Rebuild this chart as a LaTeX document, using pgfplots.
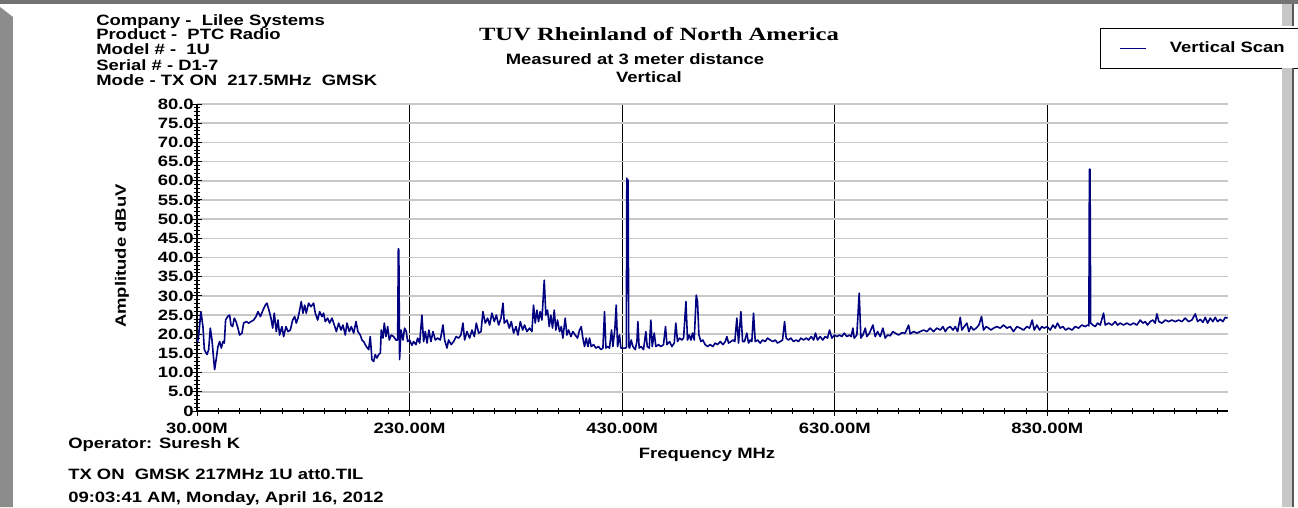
\documentclass[border=0pt]{standalone}
\usepackage{fontspec}
\usepackage{pgfplots}
\pgfplotsset{compat=1.18}
\usetikzlibrary{calc}
\newfontfamily\chartfont[FakeStretch=1.23]{Liberation Sans}
\newfontfamily\titlefont[FakeStretch=1.32]{Liberation Serif}
\newcommand\cf{\chartfont\bfseries\fontsize{11.25pt}{13pt}\selectfont}
\definecolor{scan}{RGB}{0,0,128}
\definecolor{gridgray}{RGB}{200,200,200}

\pgfplotstableread{
f v
30.0 18.0
30.6 18.1
31.5 19.5
33.7 25.9
35.6 22.0
36.9 16.0
39.4 14.7
41.0 16.0
42.5 21.6
44.1 18.5
45.7 13.4
46.6 10.8
48.2 13.8
49.7 16.8
51.3 18.1
52.9 16.4
54.4 18.1
55.7 17.7
56.9 23.7
58.8 24.6
60.7 25.0
62.0 22.4
63.5 22.0
65.1 24.2
66.7 23.3
68.5 21.6
70.1 19.8
72.3 20.3
73.9 22.9
76.4 23.3
78.6 22.9
80.8 23.3
83.3 23.7
85.5 24.6
87.4 25.9
89.6 24.6
92.1 26.3
94.3 27.6
95.8 28.1
97.7 26.3
99.6 24.2
101.2 21.6
102.7 25.5
104.6 20.7
106.2 23.7
107.7 19.8
109.9 22.0
111.5 19.4
113.7 22.0
115.6 20.7
117.8 21.1
120.0 23.7
121.9 24.6
123.4 22.9
125.0 24.2
126.6 26.3
128.1 28.5
129.7 25.5
131.3 27.6
132.8 25.5
135.0 28.1
137.2 27.2
139.7 28.1
141.3 25.5
143.5 23.7
145.4 25.9
147.6 24.6
149.1 25.5
150.7 23.3
152.9 24.2
154.8 22.9
157.0 24.2
159.2 22.4
161.1 20.7
163.3 22.9
165.5 21.1
167.3 22.4
169.5 19.8
171.1 22.9
173.3 20.7
175.2 22.0
177.4 20.3
179.6 23.3
181.4 20.7
183.6 19.8
185.2 18.5
186.8 18.1
189.3 16.8
191.5 16.0
193.0 19.4
194.6 13.4
196.2 12.9
197.7 14.7
199.3 13.8
200.9 14.7
202.5 15.1
203.4 21.1
205.0 19.0
206.2 22.9
207.8 19.4
209.4 22.0
210.9 18.5
212.8 19.8
215.0 19.4
217.2 18.5
218.8 18.5
219.4 42.3
219.9 42.0
220.6 13.4
221.9 21.1
223.8 18.5
225.3 21.6
226.9 20.7
228.2 18.1
230.0 18.5
232.2 17.1
233.8 18.1
236.0 17.3
237.6 19.0
239.5 17.7
241.6 25.0
243.2 18.1
244.8 20.7
246.4 17.7
248.2 21.1
250.1 18.1
252.0 20.7
254.2 18.5
256.4 19.0
258.9 18.5
261.4 22.4
263.0 18.5
265.2 16.4
266.7 18.5
269.2 17.3
271.4 18.1
273.9 19.4
276.1 19.0
278.3 19.8
280.2 22.9
281.8 18.5
284.0 20.7
286.5 19.0
288.7 21.1
290.9 19.4
292.8 22.9
295.0 20.3
297.2 20.7
299.0 25.9
301.2 22.9
303.4 24.2
305.3 22.4
307.5 25.5
309.7 23.3
311.6 25.0
313.8 22.4
316.0 24.2
317.9 28.1
319.1 22.9
321.6 23.7
323.8 21.6
325.7 23.3
327.9 20.3
330.1 22.0
332.0 19.8
334.2 23.3
336.4 21.1
338.2 22.4
340.4 20.7
342.9 21.6
345.1 20.7
346.6 27.6
348.2 22.9
349.8 26.3
351.3 23.3
352.9 25.9
354.5 23.7
356.7 34.1
358.2 25.0
359.8 26.3
361.4 22.0
362.9 25.0
364.5 21.6
366.1 26.3
367.6 21.1
369.2 23.7
371.1 20.7
372.7 22.0
374.2 19.0
376.4 24.2
378.0 19.8
379.6 21.1
381.8 19.4
383.6 20.7
385.8 19.8
388.0 19.0
389.9 21.1
391.5 22.0
393.0 19.0
394.6 16.8
396.2 19.0
397.8 16.8
399.3 19.0
400.9 16.8
403.1 17.3
405.3 16.4
407.8 16.8
410.0 16.0
411.9 16.4
413.4 25.9
414.7 16.4
416.3 16.8
418.1 16.4
420.0 21.1
421.3 16.8
423.2 21.6
424.4 27.6
425.7 16.8
427.5 19.8
428.8 16.4
430.7 16.4
432.9 16.4
433.9 16.5
434.4 60.7
435.0 45.0
435.6 60.2
436.2 16.8
437.0 16.4
438.5 18.5
440.1 16.8
442.3 16.0
443.9 18.1
444.8 23.3
446.0 16.4
447.9 16.8
450.1 16.0
452.3 20.7
453.6 16.8
455.5 16.4
457.0 23.7
458.3 16.8
460.2 20.3
461.7 16.8
464.2 17.3
466.4 16.8
468.9 17.3
470.8 22.0
472.1 17.3
474.6 18.1
476.8 16.8
479.0 17.7
480.5 22.9
482.1 18.1
484.0 19.0
486.2 18.5
487.8 19.0
490.0 28.5
491.5 18.5
493.1 19.8
494.7 18.5
496.2 20.3
497.8 18.5
499.7 30.2
500.9 28.5
502.2 19.8
504.1 18.1
505.9 18.5
508.1 17.3
510.3 16.8
512.8 17.3
515.4 16.8
517.5 17.7
519.7 17.3
522.3 18.1
524.8 17.3
527.0 18.1
528.5 19.4
530.1 17.7
532.3 18.1
534.2 18.5
536.0 18.1
537.9 24.2
539.5 17.7
541.7 25.9
543.3 18.1
545.1 18.1
547.3 20.3
548.9 17.7
550.5 18.5
552.0 18.1
553.6 25.5
555.2 18.1
557.4 18.5
559.9 17.7
562.1 18.5
564.6 18.1
566.8 19.0
569.3 18.5
571.8 18.1
574.0 18.5
576.2 17.7
578.7 18.1
580.9 18.5
582.8 23.3
584.3 19.0
586.5 18.5
588.7 19.0
591.2 18.1
593.7 18.5
595.9 18.1
598.1 19.0
600.6 18.5
603.2 19.0
605.4 18.5
607.9 19.4
610.1 18.5
611.9 20.3
613.8 18.5
616.3 19.4
618.8 18.5
621.0 19.4
623.2 19.0
625.1 21.1
627.3 19.0
629.8 19.8
632.0 19.4
634.5 19.8
636.7 19.4
638.9 20.3
641.4 19.4
643.9 19.8
645.5 19.4
647.1 21.6
648.3 19.0
650.8 19.8
653.0 30.7
654.6 19.0
656.5 19.8
658.7 21.6
660.2 19.4
662.7 20.3
665.9 22.4
668.1 19.4
670.3 20.7
672.8 19.4
675.3 21.6
677.5 19.0
679.7 19.8
682.2 19.6
684.7 20.7
686.9 20.3
690.1 19.8
693.2 20.4
696.3 20.3
699.5 22.4
701.0 20.1
704.2 20.7
707.3 20.3
710.4 20.7
713.6 21.1
716.7 20.7
719.8 21.6
723.0 20.7
726.1 21.6
729.3 21.1
731.8 22.0
734.0 20.7
736.2 21.6
738.7 22.0
741.2 21.1
743.4 22.0
745.6 20.7
748.1 24.4
749.6 21.1
751.8 22.0
754.3 22.9
756.2 20.7
758.1 22.0
760.6 21.1
763.1 21.6
765.6 22.4
768.1 24.6
770.0 21.1
772.5 22.0
774.7 21.6
776.9 21.1
779.4 21.6
782.6 22.0
785.7 21.6
788.8 22.4
792.0 21.6
795.1 22.0
798.2 20.7
801.4 22.0
804.5 21.6
807.7 21.1
810.8 22.0
813.3 21.6
815.8 23.7
817.7 21.1
820.2 22.4
822.7 21.1
824.9 22.0
827.1 21.6
829.9 22.0
832.7 21.1
835.3 22.4
837.4 21.6
839.6 22.9
842.1 21.6
844.7 22.0
847.2 21.1
850.0 21.6
853.1 21.1
856.3 22.0
859.4 21.6
862.5 22.4
865.7 22.0
867.9 22.4
869.1 22.2
869.6 63.0
870.2 63.0
870.8 22.9
872.9 22.4
875.1 22.0
877.3 22.9
879.8 22.4
882.9 25.5
884.5 22.4
887.6 22.9
890.8 22.4
893.9 23.3
896.1 22.4
898.6 22.9
901.7 22.4
904.9 22.9
908.0 22.4
911.1 22.9
914.3 22.4
917.4 23.7
919.9 22.9
922.1 23.3
924.3 22.4
926.8 23.3
929.3 23.7
931.5 22.9
933.1 25.3
935.0 23.3
937.8 22.9
941.0 23.7
944.1 23.3
947.2 23.7
950.3 23.3
953.5 23.7
956.6 23.3
959.7 24.2
962.9 23.3
966.0 23.7
969.2 25.3
971.4 23.3
973.9 23.9
976.4 23.1
978.6 24.4
980.8 22.9
983.3 24.2
985.8 23.3
988.0 24.4
990.2 23.3
992.7 23.9
995.2 23.3
997.4 24.4
999.6 24.2
}\scandata

\begin{document}
\begin{tikzpicture}
\begin{axis}[
  name=ax,
  scale only axis, width=773.25pt, height=230.25pt,
  xmin=30, xmax=1000, ymin=0, ymax=80,
  axis x line*=bottom, axis y line*=left,
  axis line style={black, line width=1pt},
  xtick={30,230,430,630,830},
  xticklabels={30.00M,230.00M,430.00M,630.00M,830.00M},
  minor xtick={50,70,...,990},
  ytick={0,5,...,80},
  yticklabels={0,5.0,10.0,15.0,20.0,25.0,30.0,35.0,40.0,45.0,50.0,55.0,60.0,65.0,70.0,75.0,80.0},
  minor ytick={1,2,...,79},
  tick align=center,
  major tick length=7pt,
  minor tick length=4.5pt,
  every tick/.style={black, line width=0.7pt},
  minor tick style={black, line width=0.6pt},
  xmajorgrids, ymajorgrids,
  x grid style={black, line width=0.9pt},
  y grid style={gridgray, line width=1.2pt},
  tick label style={font=\cf},
  xticklabel style={inner sep=0pt, anchor=north, yshift=-5pt},
  yticklabel style={inner sep=0pt, anchor=east, xshift=1.25pt},
  xlabel={Frequency MHz},
  xlabel style={font=\cf, inner sep=0pt, anchor=base, at={(axis description cs:0.4947,-0.1547)}},
  ylabel={Amplitude dBuV},
  ylabel style={font=\cf, inner sep=0pt, anchor=center, at={(axis description cs:-0.0727,0.5049)}},
  legend style={at={(axis description cs:0.8759,1.2476)}, anchor=north west,
    draw=black, line width=0.6pt, inner xsep=11pt, inner ysep=10.2pt,
    font=\cf, nodes={inner sep=0pt}},
  legend cell align=left,
  legend image code/.code={\path[draw=none, fill=none] (-4pt,0pt) -- (37pt,0pt); \draw[#1] (0pt,0pt) -- (19.5pt,0pt);},
]
\addplot[scan, line width=1.2pt, line join=round] table[x=f, y=v] {\scandata};
\addlegendentry{Vertical Scan\hspace{6.5pt}}
\end{axis}

\begin{scope}[shift={($(ax.south west)+(-147.75pt,-72pt)$)}, x=0.75pt, y=0.75pt]
% window frame
\fill[black!55] (0,503) rectangle (1298,507);
\fill[black!45] (0,0) -- (13,0) -- (13,490) -- (0,500) -- cycle;
\fill[black!22] (1282,0) rectangle (1292,439);
\fill[black!65] (1292,0) rectangle (1294,439);
\fill[black!22] (1282,481) rectangle (1292,503);
\fill[black!65] (1292,481) rectangle (1294,503);

\node[font=\cf, anchor=base west, inner sep=0pt] at (96,481.5) {Company - \ Lilee Systems};
\node[font=\cf, anchor=base west, inner sep=0pt] at (96,467.5) {Product - \ PTC Radio};
\node[font=\cf, anchor=base west, inner sep=0pt] at (96,452) {Model \# - \ 1U};
\node[font=\cf, anchor=base west, inner sep=0pt] at (96,436.5) {Serial \# - D1-7};
\node[font=\cf, anchor=base west, inner sep=0pt] at (96,421) {Mode - TX ON \ 217.5MHz \ GMSK};

\node[font=\titlefont\bfseries\fontsize{14pt}{16pt}\selectfont, anchor=base, inner sep=0pt] at (659,466) {TUV Rheinland of North America};
\node[font=\cf, anchor=base, inner sep=0pt] at (635,442) {Measured at 3 meter distance};
\node[font=\cf, anchor=base, inner sep=0pt] at (649,424) {Vertical};

\node[font=\cf, anchor=base west, inner sep=0pt] at (68,58.5) {Operator: Suresh K};
\node[font=\cf, anchor=base west, inner sep=0pt] at (68,28) {TX ON \ GMSK 217MHz 1U att0.TIL};
\node[font=\cf, anchor=base west, inner sep=0pt] at (68,4.5) {09:03:41 AM, Monday, April 16, 2012};

\pgfresetboundingbox
\useasboundingbox (0,0) rectangle (1298,507);
\end{scope}
\end{tikzpicture}
\end{document}
